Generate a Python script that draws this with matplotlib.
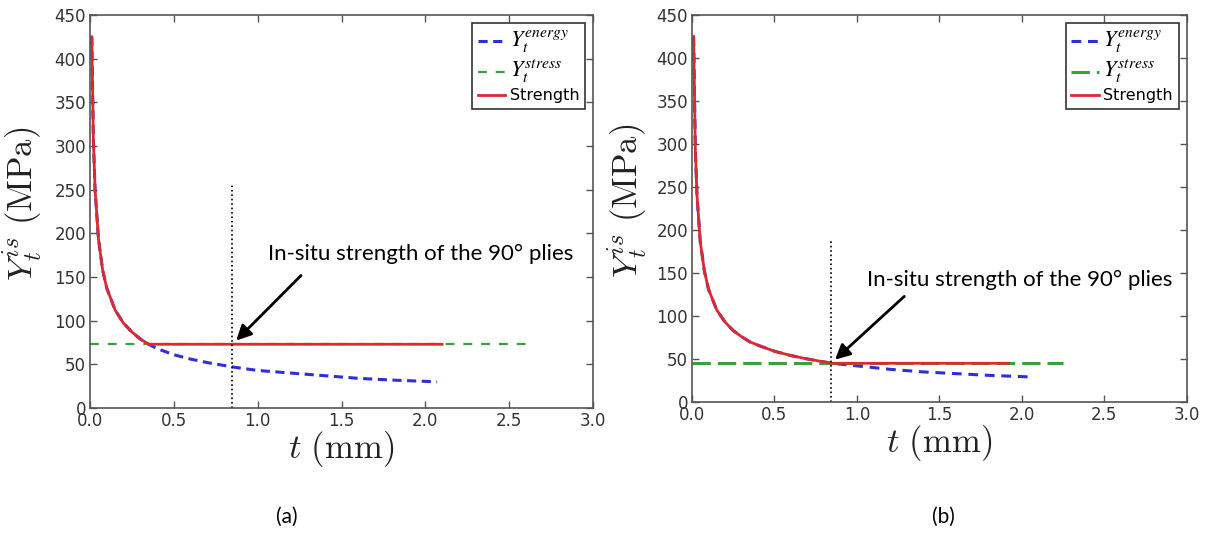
import numpy as np
import matplotlib
matplotlib.use('Agg')
import matplotlib.pyplot as plt
from matplotlib.font_manager import FontProperties

plt.rcParams['mathtext.fontset'] = 'cm'

# ---- data (t in mm, Y in MPa) ----
# panel (a)
t_energy_a = [0.0104, 0.02, 0.03, 0.05, 0.075, 0.1, 0.15, 0.2, 0.25, 0.3, 0.35,
              0.4, 0.5, 0.6, 0.7, 0.85, 1.0, 1.2, 1.4, 1.6, 1.8, 2.07]
y_energy_a = [425, 306, 250, 194, 158, 137, 112, 97, 87, 79, 73,
              68, 61, 56, 52, 47, 43, 40, 37, 34, 32, 30]
t_strength_a = [0.0104, 0.02, 0.03, 0.05, 0.075, 0.1, 0.15, 0.2, 0.25, 0.3, 0.35, 2.1]
y_strength_a = [425, 306, 250, 194, 158, 137, 112, 97, 87, 79, 73, 73]
t_stress_a = [0.0, 2.6]
y_stress_a = [73, 73]

# panel (b)
t_energy_b = [0.0095, 0.02, 0.03, 0.05, 0.075, 0.1, 0.15, 0.2, 0.25, 0.3, 0.35,
              0.4, 0.5, 0.6, 0.7, 0.85, 1.0, 1.2, 1.4, 1.6, 1.8, 2.07]
y_energy_b = [425, 293, 240, 186, 152, 131, 107, 93, 83, 76, 70,
              66, 59, 54, 50, 45, 42, 38, 35, 33, 31, 29]
t_strength_b = [0.0095, 0.02, 0.03, 0.05, 0.075, 0.1, 0.15, 0.2, 0.25, 0.3, 0.35,
                0.4, 0.5, 0.6, 0.7, 0.85, 1.92]
y_strength_b = [425, 293, 240, 186, 152, 131, 107, 93, 83, 76, 70,
                66, 59, 54, 50, 45, 45]
t_stress_b = [0.0, 2.25]
y_stress_b = [45, 45]

t_ply = 0.845           # 90 deg ply thickness marker
ply_top = [255, 188]    # top of the dotted marker in each panel
note = 'In-situ strength of the 90° plies'

xticks = [0.0, 0.5, 1.0, 1.5, 2.0, 2.5, 3.0]
yticks = [0, 50, 100, 150, 200, 250, 300, 350, 400, 450]

c_blue = '#2f2fd6'
c_green = '#38a040'
c_red = '#dc2a30'

fig = plt.figure(figsize=(12.12, 5.38), dpi=100)
ax1 = fig.add_axes([0.0743, 0.2416, 0.415, 0.7305])
ax2 = fig.add_axes([0.571, 0.2528, 0.408, 0.7193])

leg_prop = FontProperties(family='DejaVu Sans', size=11.5, math_fontfamily='stix')


def draw_panel(ax, te, ye, ts, ys, tr, yr, green_dash, blue_dash, lw_g, top,
               note_xy, tail_xy, head_xy, lab_x):
    ax.plot(te, ye, color=c_blue, lw=2.2, dashes=blue_dash, label=r'$Y_t^{energy}$')
    ax.plot(ts, ys, color=c_green, lw=lw_g, dashes=green_dash, label=r'$Y_t^{stress}$')
    ax.plot(tr, yr, color=c_red, lw=2.0, label='Strength')
    ax.plot([t_ply, t_ply], [0, top], color='black', lw=1.2, ls=':')

    ax.set_xlim(0, 3.0)
    ax.set_ylim(0, 450)
    ax.set_xticks(xticks)
    ax.set_yticks(yticks)
    ax.tick_params(direction='in', top=True, right=True, length=5, width=1,
                   labelsize=12, labelcolor='#333333', color='#555555', pad=3)
    for s in ax.spines.values():
        s.set_color('#555555')
        s.set_linewidth(1.2)

    ax.set_xlabel(r'$t\ \mathrm{(mm)}$', fontsize=25, color='#222222', labelpad=-1)
    ax.set_ylabel(r'$Y_t^{is}\ \mathrm{(MPa)}$', fontsize=25, color='#222222')
    ax.yaxis.set_label_coords(lab_x, 0.52)

    leg = ax.legend(loc='upper right', prop=leg_prop, fancybox=False,
                    handlelength=1.7, handletextpad=0.3, borderaxespad=0.5,
                    labelspacing=0.2, borderpad=0.35, framealpha=1)
    leg.get_frame().set_edgecolor('#333333')
    leg.get_frame().set_linewidth(1.2)
    for txt in leg.get_texts()[:2]:
        txt.set_fontsize(16)

    ax.annotate('', xy=head_xy, xytext=tail_xy,
                arrowprops=dict(arrowstyle='-|>,head_length=0.9,head_width=0.45',
                                color='black', lw=2))
    ax.text(note_xy[0], note_xy[1], note, fontsize=16, family='Lato',
            va='center', ha='left', color='black')


draw_panel(ax1, t_energy_a, y_energy_a, t_stress_a, y_stress_a,
           t_strength_a, y_strength_a, (4, 4), (3, 1.8), 1.6, ply_top[0],
           (1.06, 177), (1.27, 154), (0.86, 75), -0.09)
draw_panel(ax2, t_energy_b, y_energy_b, t_stress_b, y_stress_b,
           t_strength_b, y_strength_b, (6, 2.3), (3.2, 2.2), 2.2, ply_top[1],
           (1.06, 142), (1.30, 125), (0.855, 47), -0.086)

fig.text(287 / 1212, 1 - 517 / 538, '(a)', fontsize=15, family='Lato', ha='center', va='center')
fig.text(943 / 1212, 1 - 517 / 538, '(b)', fontsize=15, family='Lato', ha='center', va='center')

fig.savefig('out.png', dpi=100, facecolor='white')
